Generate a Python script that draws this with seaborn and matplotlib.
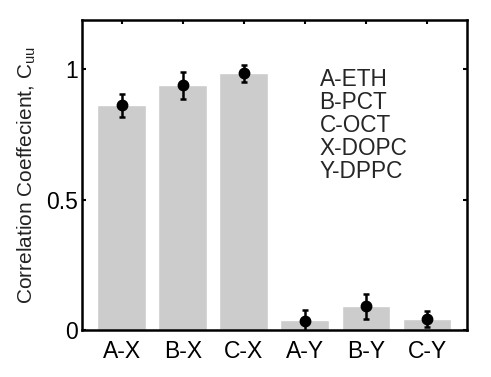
import numpy as np
import pandas as pd
import matplotlib
matplotlib.use('Agg')
import matplotlib.pyplot as plt
import seaborn as sns

# Donnees
paires = ['A-X', 'B-X', 'C-X', 'A-Y', 'B-Y', 'C-Y']
barres = [0.863, 0.941, 0.985, 0.037, 0.092, 0.042]
points = [0.863, 0.940, 0.985, 0.035, 0.090, 0.041]
erreurs = [0.044, 0.052, 0.032, 0.040, 0.047, 0.031]
legende = ['A-ETH', 'B-PCT', 'C-OCT', 'X-DOPC', 'Y-DPPC']

sns.set_style('ticks')
plt.rcParams['font.family'] = ['Liberation Sans', 'DejaVu Sans']
plt.rcParams['mathtext.fontset'] = 'custom'
plt.rcParams['mathtext.rm'] = 'Liberation Sans'
plt.rcParams['mathtext.it'] = 'Liberation Sans'

df = pd.DataFrame({'paire': paires, 'corr': barres})

fig = plt.figure(figsize=(4.91, 3.77), dpi=100)
ax = fig.add_axes([0.167, 0.125, 0.7835, 0.822])

sns.barplot(data=df, x='paire', y='corr', color='#cccccc', saturation=1,
            width=0.8, ax=ax, errorbar=None)
ax.errorbar(np.arange(len(paires)), points, yerr=erreurs, fmt='o', color='black',
            markersize=7.5, elinewidth=1.8, capsize=2.5, capthick=1.8, zorder=5)

ax.set_xlim(-0.65, len(paires) - 0.35)
ax.set_ylim(0, 1.19)
ax.set_yticks([0, 0.5, 1])
ax.set_yticklabels(['0', '0.5', '1'])
ax.set_xlabel('')
ax.set_ylabel(r'Correlation Coeffecient, C$_{\mathrm{uu}}$', fontsize=15, color='#222222',
              labelpad=6)
ax.tick_params(axis='both', direction='in', length=3, width=1.5, labelsize=16.5,
               top=True, right=True, colors='black')
ax.tick_params(axis='x', pad=7)
ax.tick_params(axis='y', pad=3)
for sp in ax.spines.values():
    sp.set_linewidth(1.8)
    sp.set_color('black')
    sp.set_visible(True)

ax.text(3.24, 1.005, '\n'.join(legende), fontsize=16.3, va='top', ha='left',
        linespacing=1.0)

fig.savefig('out.png', dpi=100, facecolor='white')
